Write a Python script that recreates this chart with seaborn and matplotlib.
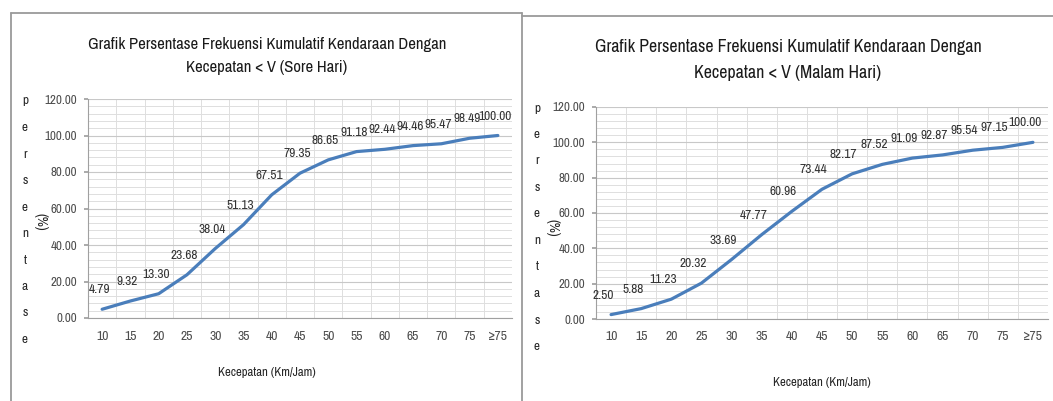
import numpy as np
import matplotlib
matplotlib.use("Agg")
import matplotlib.pyplot as plt
from matplotlib.lines import Line2D
from matplotlib.ticker import MultipleLocator
from matplotlib import font_manager
import seaborn as sns

# ---- data ----
speed_labels = ["10", "15", "20", "25", "30", "35", "40", "45", "50", "55",
                "60", "65", "70", "75", "\u226575"]
sore_values = [4.79, 9.32, 13.30, 23.68, 38.04, 51.13, 67.51, 79.35, 86.65,
               91.18, 92.44, 94.46, 95.47, 98.49, 100.00]
malam_values = [2.50, 5.88, 11.23, 20.32, 33.69, 47.77, 60.96, 73.44, 82.17,
                87.52, 91.09, 92.87, 95.54, 97.15, 100.00]
titles = ["Grafik Persentase Frekuensi Kumulatif Kendaraan Dengan\nKecepatan < V (Sore Hari)",
          "Grafik Persentase Frekuensi Kumulatif Kendaraan Dengan\nKecepatan < V (Malam Hari)"]
x_label = "Kecepatan (Km/Jam)"
y_letters = list("persentase")

sns.set_theme(style="white")

# pick a narrow / condensed font if one is installed
narrow = None
cond_stretch = "normal"
for f in font_manager.fontManager.ttflist:
    nm = f.name.lower()
    fn = f.fname.lower()
    if "narrow" in nm or "narrow" in fn:
        narrow = f.name
        break
if narrow is None:
    for f in font_manager.fontManager.ttflist:
        if "condensed" in f.fname.lower() and "bold" not in f.fname.lower() \
                and "italic" not in f.fname.lower() and "oblique" not in f.fname.lower():
            narrow = f.name
            cond_stretch = "condensed"
            break
FONT = ([narrow] if narrow else []) + ["Liberation Sans", "DejaVu Sans"]
plt.rcParams["font.family"] = FONT
plt.rcParams["font.stretch"] = cond_stretch
HAVE_NARROW = narrow is not None
SCALE = 1.0 if HAVE_NARROW else 0.8

W, H = 1053, 401
fig = plt.figure(figsize=(W / 100, H / 100), dpi=100)
fig.patch.set_facecolor("white")

def fx(px):
    return px / W

def fy(py):
    return 1 - py / H

LINE_COLOR = "#4a7ebb"
TEXT_COLOR = "#333333"

panels = [
    dict(values=sore_values, title=titles[0], ax=(88, 512, 99, 318),
         title_xy=(267, 56), title_size=12.0, xlabel_xy=(267, 373),
         ylet_x=25, ylet_y0=101, ylet_dy=26.5, pct_xy=(40, 222),
         lab_off=(-2, 10)),
    dict(values=malam_values, title=titles[1], ax=(596, 1048, 107, 319),
         title_xy=(788, 60), title_size=12.9, xlabel_xy=(822, 382),
         ylet_x=537, ylet_y0=108, ylet_dy=26.5, pct_xy=(553, 228),
         lab_off=(-6, 10)),
]

n = len(speed_labels)
for p in panels:
    l, r, t, b = p["ax"]
    ax = fig.add_axes([fx(l), fy(b), fx(r) - fx(l), fy(t) - fy(b)])
    sns.lineplot(x=np.arange(n), y=p["values"], ax=ax, color=LINE_COLOR,
                 linewidth=2.3, zorder=3)
    ax.set_xlim(-0.5, n - 0.5)
    ax.set_ylim(0, 120)
    ax.yaxis.set_major_locator(MultipleLocator(20))
    ax.yaxis.set_minor_locator(MultipleLocator(4))
    ax.set_xticks(np.arange(n))
    ax.set_xticklabels(speed_labels)
    ax.set_xticks(np.arange(-0.5, n, 0.5), minor=True)
    ax.set_yticklabels([f"{v:.2f}" for v in ax.get_yticks()])
    ax.grid(True, which="major", axis="y", color="#c8c8c8", linewidth=0.8)
    ax.grid(True, which="minor", axis="both", color="#dedede", linewidth=0.7)
    ax.set_axisbelow(True)
    for s in ["top", "right"]:
        ax.spines[s].set_visible(False)
    for s in ["left", "bottom"]:
        ax.spines[s].set_color("#a0a0a0")
        ax.spines[s].set_linewidth(0.8)
    ax.tick_params(axis="y", which="major", length=3, color="#a0a0a0",
                   labelsize=9.3 * SCALE, labelcolor="#4d4d4d", pad=5, left=True)
    ax.tick_params(axis="x", which="major", length=0, labelsize=9.8 * SCALE,
                   labelcolor="#4d4d4d", pad=9)
    ax.tick_params(which="minor", length=0)
    ax.set_xlabel("")
    ax.set_ylabel("")
    for i, v in enumerate(p["values"]):
        ax.annotate(f"{v:.2f}", (i, v), xytext=p["lab_off"],
                    textcoords="offset points", ha="center", va="bottom",
                    fontsize=9.6 * SCALE, color=TEXT_COLOR, annotation_clip=False)
    fig.text(fx(p["title_xy"][0]), fy(p["title_xy"][1]), p["title"],
             ha="center", va="center", fontsize=p["title_size"] * SCALE,
             color="#1a1a1a", linespacing=1.7 / SCALE)
    fig.text(fx(p["xlabel_xy"][0]), fy(p["xlabel_xy"][1]), x_label,
             ha="center", va="center", fontsize=9.2 * SCALE, fontweight="bold",
             color="#262626")
    for k, ch in enumerate(y_letters):
        fig.text(fx(p["ylet_x"]), fy(p["ylet_y0"] + k * p["ylet_dy"]), ch,
                 ha="center", va="center", fontsize=9.5, fontweight="bold",
                 color="#262626")
    fig.text(fx(p["pct_xy"][0]), fy(p["pct_xy"][1]), "(%)", rotation=-90,
             ha="center", va="center", fontsize=10, fontweight="bold",
             color="#262626")

# chart-area frames
frame_kw = dict(color="#9a9a9a", linewidth=1.3, transform=fig.transFigure)
fig.add_artist(Line2D([fx(11), fx(11)], [fy(13), fy(401)], **frame_kw))
fig.add_artist(Line2D([fx(11), fx(522)], [fy(13), fy(13)], **frame_kw))
fig.add_artist(Line2D([fx(522), fx(522)], [fy(13), fy(401)], **frame_kw))
fig.add_artist(Line2D([fx(522), fx(1053)], [fy(16), fy(16)], **frame_kw))

fig.savefig("out.png", dpi=100)
